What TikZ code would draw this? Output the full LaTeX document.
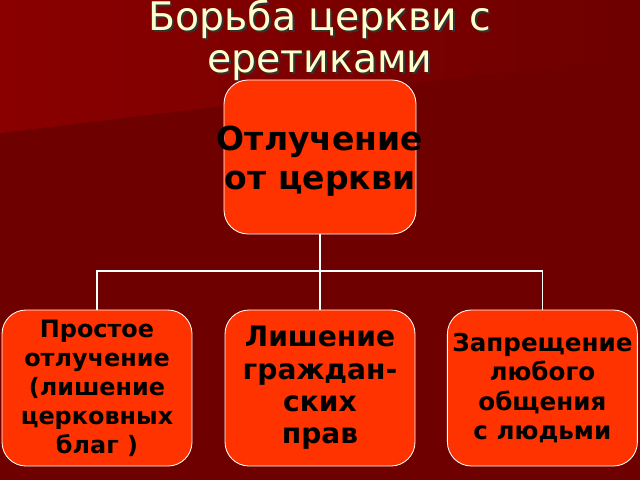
\documentclass[tikz,border=0pt]{standalone}
\usepackage{fontspec}
\setmainfont{DejaVu Sans}
\usepackage{tikz}
\definecolor{bgdark}{HTML}{6E0000}
\definecolor{bglight}{HTML}{8A0000}
\definecolor{boxfill}{HTML}{FF3300}
\definecolor{titlecol}{HTML}{FFFFCC}

\begin{document}
\begin{tikzpicture}
                            [thick,
                            box/.style = {draw=white, fill=boxfill, rounded corners=0.6cm,
                                        line width=0.6pt, minimum width=4.75cm,
                                        minimum height=3.9cm, align=center, inner sep=0pt,
                                        font=\bfseries\fontsize{17}{20.6}\selectfont},
                            link/.style = {draw=white, line width=1.2pt}]
                            % Fon
                            \fill[bgdark] (0,0) rectangle (16,12);
                            \shade[left color=bglight, right color=bgdark] (0,12) -- (16,12) -- (16,10.6) -- (0,8.675) -- cycle;
                            \useasboundingbox (0,0) rectangle (16,12);
                            % Zagolovok
                            \node[text=black!80, font=\fontsize{28}{30}\selectfont, align=center] at (8.05,10.95) {Борьба церкви с\\еретиками};
                            \node[text=titlecol, font=\fontsize{28}{30}\selectfont, align=center] (title) at (8,11) {Борьба церкви с\\еретиками};
                            % Bloki
                            \node[box, minimum width=4.8cm, minimum height=3.85cm] (top) at (8,8.075) {};
                            \node[align=center, inner sep=0pt, font=\bfseries\fontsize{23.5}{28}\selectfont] (toplbl) at ([yshift=-0.1cm]top.center) {Отлучение\\от церкви};
                            \node[box] (left) at (2.425,2.3) {Простое\\отлучение\\(лишение\\церковных\\благ )};
                            \node[box, font=\bfseries\fontsize{20}{23}\selectfont] (mid) at (8,2.3) {Лишение\\граждан-\\ских\\прав};
                            \node[box, font=\bfseries\fontsize{17.5}{21}\selectfont] (right) at (13.56,2.3) {Запрещение\\любого\\общения\\с людьми};
                            % Linii
                            \coordinate (jn) at (8,5.225);
                            \draw[link] (top.south) -- (jn);
                            \draw[link] (left.north) |- (jn) -| (right.north);
                            \draw[link] (jn) -- (mid.north);
                        \end{tikzpicture}
\end{document}
